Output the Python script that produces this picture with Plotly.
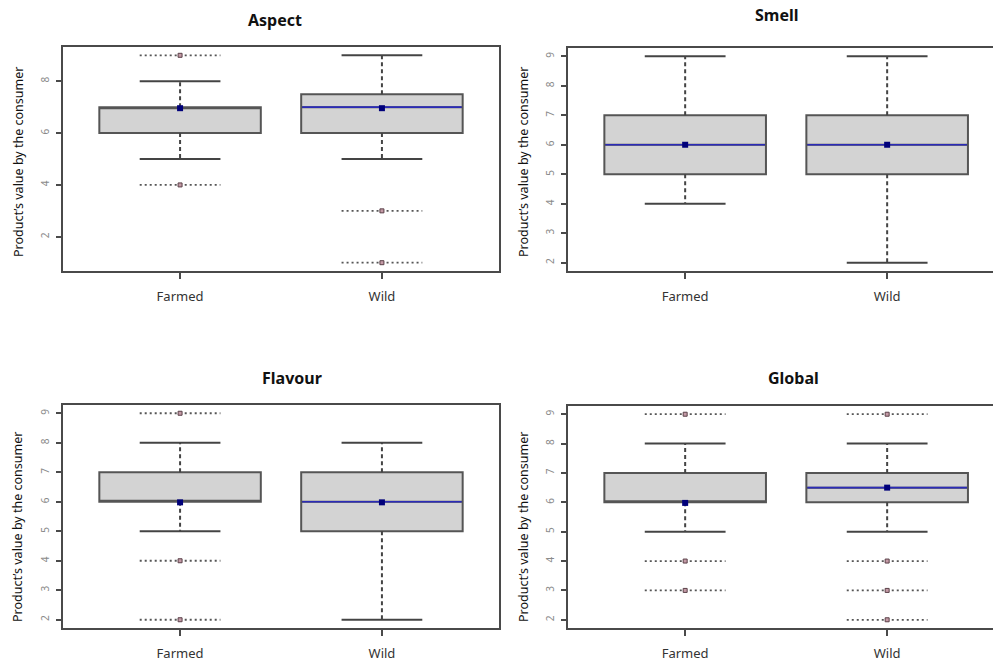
import plotly.graph_objects as go

# ---- data -------------------------------------------------------------
categories = ["Farmed", "Wild"]
positions = [1, 2]

panel_titles = ["Aspect", "Smell", "Flavour", "Global"]

aspect_q1 = [6, 6]
aspect_median = [7, 7]
aspect_q3 = [7, 7.5]
aspect_lower = [5, 5]
aspect_upper = [8, 9]
aspect_mean = [6.96, 6.96]
aspect_outliers = [[4, 9], [1, 3]]

smell_q1 = [5, 5]
smell_median = [6, 6]
smell_q3 = [7, 7]
smell_lower = [4, 2]
smell_upper = [9, 9]
smell_mean = [6.0, 6.0]
smell_outliers = [[], []]

flavour_q1 = [6, 5]
flavour_median = [6, 6]
flavour_q3 = [7, 7]
flavour_lower = [5, 2]
flavour_upper = [8, 8]
flavour_mean = [5.98, 5.98]
flavour_outliers = [[2, 4, 9], []]

global_q1 = [6, 6]
global_median = [6, 6.5]
global_q3 = [7, 7]
global_lower = [5, 5]
global_upper = [8, 8]
global_mean = [5.98, 6.5]
global_outliers = [[3, 4, 9], [2, 3, 4, 9]]

aspect_yticks = [2, 4, 6, 8]
rating_yticks = [2, 3, 4, 5, 6, 7, 8, 9]

y_title = "Product’s value by the consumer"

# ---- styling ----------------------------------------------------------
W, H = 993, 664
FRAME = "#4a4a4a"
BOX_EDGE = "#555555"
BOX_FILL = "#d3d3d3"
WHISK = "#444444"
MEDIAN_BLUE = "#2b2bb8"
MEAN_NAVY = "#00007a"
BOX_WIDTH = 0.8
CAP_HALF = 0.2

stats = [
    (aspect_q1, aspect_median, aspect_q3, aspect_lower, aspect_upper, aspect_mean, aspect_outliers),
    (smell_q1, smell_median, smell_q3, smell_lower, smell_upper, smell_mean, smell_outliers),
    (flavour_q1, flavour_median, flavour_q3, flavour_lower, flavour_upper, flavour_mean, flavour_outliers),
    (global_q1, global_median, global_q3, global_lower, global_upper, global_mean, global_outliers),
]

# pixel frames of the four plotting areas: (left, right, top, bottom)
frames = [(63, 499, 47, 271), (568, 993, 48, 271), (63, 499, 405, 628), (568, 993, 406, 628)]
x_ranges = [[0.42, 2.58], [0.42, 2.524], [0.42, 2.58], [0.42, 2.524]]
y_ranges = [[0.68, 9.32], [1.72, 9.28], [1.72, 9.28], [1.72, 9.28]]
y_ticks = [aspect_yticks, rating_yticks, rating_yticks, rating_yticks]
title_pos = [(275, 20), (777, 15), (292, 378), (793, 378)]
ytitle_pos = [(18, 162), (523, 162), (17, 527), (523, 527)]

fig = go.Figure()

for i, (q1, med, q3, lo, hi, mean, outs) in enumerate(stats):
    n = "" if i == 0 else str(i + 1)
    xa, ya = "x" + n, "y" + n

    for j, pos in enumerate(positions):
        # box body (whiskers drawn separately in R style)
        fig.add_trace(go.Box(
            x=[pos], q1=[q1[j]], median=[med[j]], q3=[q3[j]],
            lowerfence=[q1[j]], upperfence=[q3[j]],
            width=BOX_WIDTH, fillcolor=BOX_FILL,
            line=dict(color=BOX_EDGE, width=2),
            boxpoints=False, hoverinfo="skip",
            xaxis=xa, yaxis=ya, showlegend=False,
        ))
        # median drawn in blue when it lies inside the box
        if q1[j] < med[j] < q3[j]:
            fig.add_trace(go.Scatter(
                x=[pos - BOX_WIDTH / 2 + 0.005, pos + BOX_WIDTH / 2 - 0.005],
                y=[med[j], med[j]], mode="lines",
                line=dict(color=MEDIAN_BLUE, width=1.6),
                xaxis=xa, yaxis=ya, showlegend=False, hoverinfo="skip",
            ))
        # dashed whiskers
        for a, b in ((q3[j], hi[j]), (q1[j], lo[j])):
            if a != b:
                fig.add_trace(go.Scatter(
                    x=[pos, pos], y=[a, b], mode="lines",
                    line=dict(color=WHISK, width=2, dash="4px,3px"),
                    xaxis=xa, yaxis=ya, showlegend=False, hoverinfo="skip",
                ))
        # whisker caps
        for v in (hi[j], lo[j]):
            fig.add_trace(go.Scatter(
                x=[pos - CAP_HALF, pos + CAP_HALF], y=[v, v], mode="lines",
                line=dict(color=WHISK, width=2),
                xaxis=xa, yaxis=ya, showlegend=False, hoverinfo="skip",
            ))
        # outliers: dotted reference line with a small point
        for v in outs[j]:
            fig.add_trace(go.Scatter(
                x=[pos - CAP_HALF, pos + CAP_HALF], y=[v, v], mode="lines",
                line=dict(color="#555555", width=1.8, dash="2px,3px"),
                xaxis=xa, yaxis=ya, showlegend=False, hoverinfo="skip",
            ))
        if outs[j]:
            fig.add_trace(go.Scatter(
                x=[pos] * len(outs[j]), y=outs[j], mode="markers",
                marker=dict(symbol="square", size=4, color="#c49aa6",
                            line=dict(color="#5a4048", width=1)),
                xaxis=xa, yaxis=ya, showlegend=False, hoverinfo="skip",
            ))
        # mean marker
        fig.add_trace(go.Scatter(
            x=[pos], y=[mean[j]], mode="markers",
            marker=dict(symbol="square", size=6, color=MEAN_NAVY),
            xaxis=xa, yaxis=ya, showlegend=False, hoverinfo="skip",
        ))

layout = dict(
    width=W, height=H, margin=dict(l=0, r=0, t=0, b=0),
    paper_bgcolor="white", plot_bgcolor="white",
    font=dict(family="Noto Sans, Open Sans, sans-serif", color="#333333"),
    annotations=[],
)

for i in range(4):
    n = "" if i == 0 else str(i + 1)
    left, right, top, bottom = frames[i]
    right_panel = i in (1, 3)
    layout["xaxis" + n] = dict(
        domain=[left / W, min(right / W, 1.0)],
        range=x_ranges[i], anchor="y" + n,
        tickvals=positions, ticktext=categories,
        ticks="outside", ticklen=6, tickwidth=1.5, tickcolor=FRAME,
        ticklabelstandoff=6,
        tickfont=dict(size=13, color="#333333"),
        showline=True, linecolor=FRAME, linewidth=2, mirror=True,
        showgrid=False, zeroline=False, fixedrange=True,
    )
    layout["yaxis" + n] = dict(
        domain=[1 - bottom / H, 1 - top / H],
        range=y_ranges[i], anchor="x" + n,
        tickvals=y_ticks[i], tickangle=-90,
        ticks="outside", ticklen=5, tickwidth=1.5, tickcolor=FRAME,
        ticklabelstandoff=3,
        tickfont=dict(size=10, color="#8a8a8a"),
        showline=True, linecolor=FRAME, linewidth=2,
        mirror=False if right_panel else True,
        showgrid=False, zeroline=False, fixedrange=True,
    )
    tx, ty = title_pos[i]
    layout["annotations"].append(dict(
        text="<b>" + panel_titles[i] + "</b>", x=tx / W, y=1 - ty / H,
        xref="paper", yref="paper", showarrow=False,
        xanchor="center", yanchor="middle",
        font=dict(family="Noto Sans, sans-serif", size=16, color="#111111"),
    ))
    yx, yy = ytitle_pos[i]
    layout["annotations"].append(dict(
        text=y_title, x=yx / W, y=1 - yy / H, textangle=-90,
        xref="paper", yref="paper", showarrow=False,
        xanchor="center", yanchor="middle",
        font=dict(family="Noto Sans, Open Sans, sans-serif", size=12.5, color="#111111"),
    ))

fig.update_layout(**layout)
fig.write_html("out.html")
